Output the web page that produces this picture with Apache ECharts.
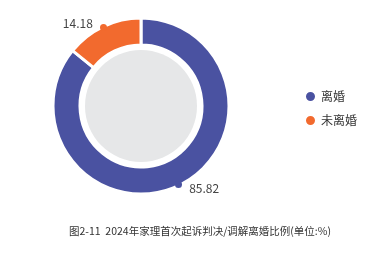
<!DOCTYPE html>
<html><head><meta charset="utf-8">
<script src="https://cdn.jsdelivr.net/npm/echarts@6/dist/echarts.min.js"></script>
<style>html,body{margin:0;padding:0;background:#fff}#c{width:383px;height:256px}</style>
</head><body><div id="c"></div>
<script>
var categories = ['离婚', '未离婚'];
var values = [85.82, 14.18];
var colors = ['#4a52a1', '#f26a2e'];
var titleText = '图2-11  2024年家理首次起诉判决/调解离婚比例(单位:%)';

var center = [141, 106];
var total = values.reduce(function(a,b){return a+b;},0);
var cum = 0, mids = [];
values.forEach(function(v){ mids.push([1, (cum + v/2) / total * 100]); cum += v; });

var chart = echarts.init(document.getElementById('c'), null, {renderer:'canvas'});
chart.setOption({
  animation: false,
  textStyle: {fontFamily: '"Noto Sans CJK SC", "Noto Sans", sans-serif'},
  title: {text: titleText, left: 195, textAlign: 'center', top: 221,
    textStyle: {fontSize: 10.5, fontWeight: 'normal', color: '#333'}},
  legend: {orient: 'vertical', left: 299, top: 85, itemGap: 11, icon: 'circle',
    itemWidth: 11, itemHeight: 11, textStyle: {fontSize: 12, color: '#333'},
    data: categories},
  polar: {center: center, radius: 87},
  angleAxis: {type: 'value', min: 0, max: 100, startAngle: 90, clockwise: true, show: false},
  radiusAxis: {type: 'value', min: 0, max: 1, show: false},
  series: [
    {type: 'pie', silent: true, center: center, radius: [0, 56], z: 1,
      label: {show: false}, labelLine: {show: false},
      data: [{value: 1, itemStyle: {color: '#e6e7e8'}}]},
    {type: 'pie', center: center, radius: [61, 88], startAngle: 90, clockwise: true,
      itemStyle: {borderColor: '#fff', borderWidth: 3},
      label: {show: true, position: 'outside', formatter: function(p){return p.value.toFixed(2);},
        fontSize: 12, color: '#444'},
      labelLine: {show: true, length: 3, length2: 4, lineStyle: {color: 'rgba(0,0,0,0)'}},
      data: categories.map(function(c,i){return {name: c, value: values[i], itemStyle: {color: colors[i]}};})},
    {type: 'scatter', coordinateSystem: 'polar', symbolSize: 7, z: 5, silent: true,
      itemStyle: {opacity: 1, color: function(p){return colors[p.dataIndex];}},
      data: mids}
  ]
});
</script></body></html>
